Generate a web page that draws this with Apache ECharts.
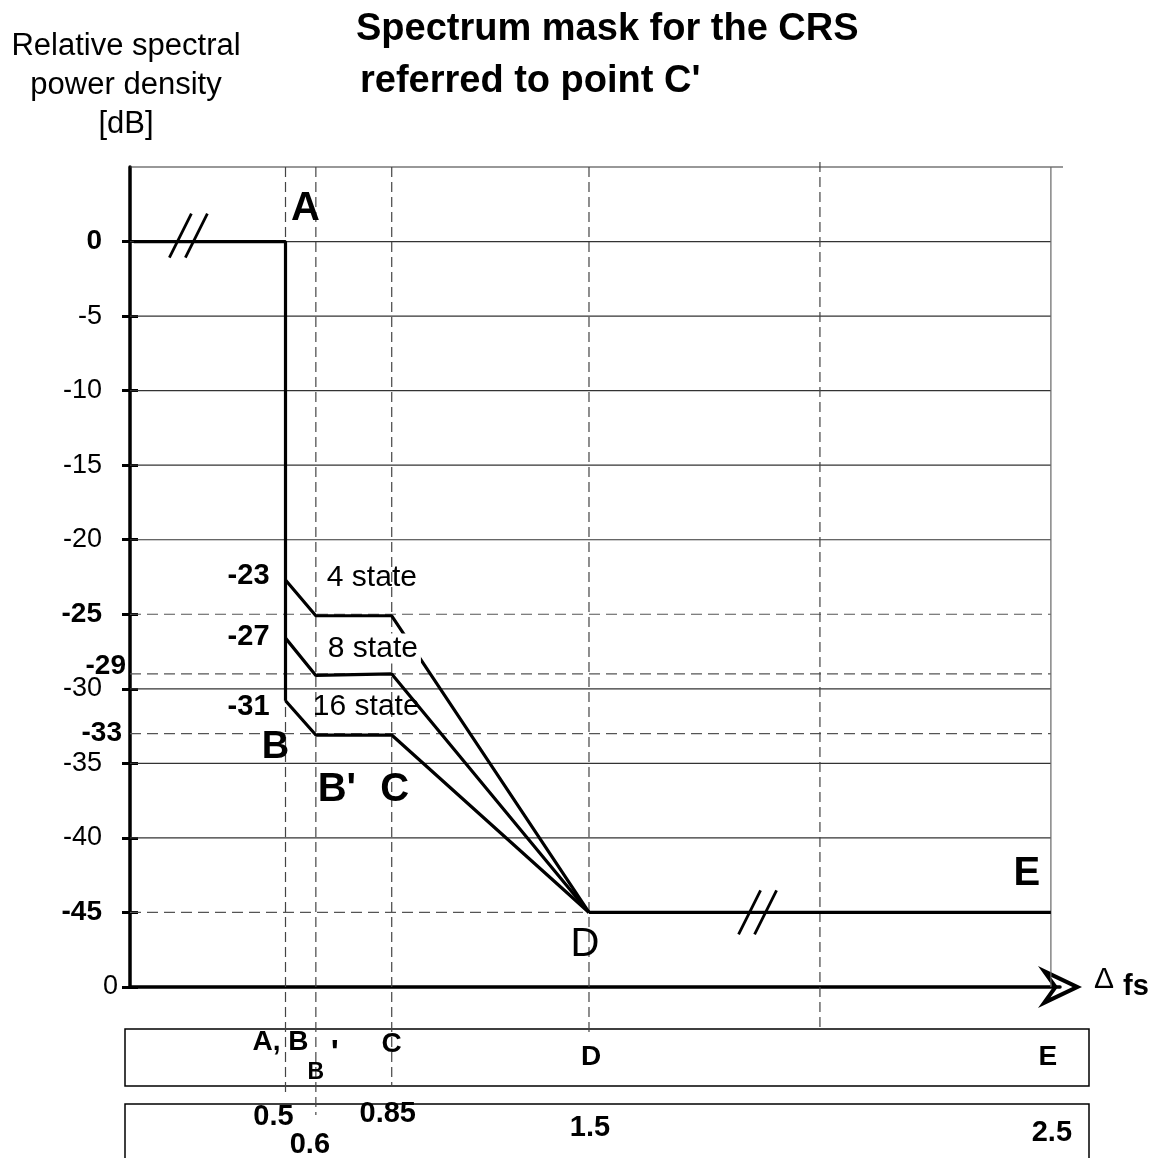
<!DOCTYPE html>
<html>
<head>
<meta charset="utf-8">
<title>Spectrum mask for the CRS</title>
<script src="https://cdn.jsdelivr.net/npm/echarts@6/dist/echarts.min.js"></script>
<style>
  html, body { margin: 0; padding: 0; background: #fff; }
  #chart { width: 1154px; height: 1158px; }
</style>
</head>
<body>
<div id="chart"></div>
<script>
// mask corner frequencies (Δf / fs) and levels [dB]
const stateFreqs = [0.5, 0.6, 0.85, 1.5]
const state4 = [-22.7, -25.1, -25.1, -45]
const state8 = [-26.6, -29.1, -29.0, -45]
const state16 = [-30.8, -33.1, -33.1, -45]
const stateNames = ['4 state', '8 state', '16 state']
const stateStartLabels = ['-23', '-27', '-31']
const maskTop = [[0, 0], [0.5, 0], [0.5, -30.8]]
const maskFloor = [[1.5, -45], [2.5, -45]]

// y axis
const yTicks = [0, -5, -10, -15, -20, -25, -30, -35, -40, -45, -50]
const yLabels = [0, -5, -10, -15, -20, -25, -30, -35, -40, -45]
const yBold = [0, -25, -45]
const solidLevels = [5, 0, -5, -10, -15, -20, -30, -35, -40]
const dashedLevels = [-25, -29, -33, -45]
const extraLevels = [-29, -33]

// x reference lines / point names
const markFreqs = [0.5, 0.6, 0.85, 1.5, 2.0, 2.5]
const pointFreqs = [0.5, 0.6, 0.85, 1.5, 2.5]
const pointNames = ['A, B', "B'", 'C', 'D', 'E']
const freqLabels = ['0.5', '0.6', '0.85', '1.5', '2.5']
const plotLetters = ['A', 'B', "B'", 'C', 'D', 'E']
const plotLetterAt = [[0.5, 0], [0.5, -30.8], [0.6, -33.1], [0.85, -33.1], [1.5, -45], [2.5, -45]]
const breakMarks = [[0.18, 0], [1.865, -45]]

// ---- layout / style (pixels) ----
const FONT = 'Liberation Sans, Arial, sans-serif'
const xLo = -0.0124, xHi = 3.052
// axis is broken after 1.5: the right part is drawn 1.522x wider
const u = f => f <= 1.5 ? f : 1.5 + (f - 1.5) * 1.522
const vRaise = [0, 0, 0, 0, 5, 0]
const vDrop = [108, 128, 100, 50, 45, 0]
const letterOff = [[20, -33], [-10, 47], [21, 55], [3, 55], [-4, 33], [-24, -38]]
const stateNameOff = [[11, -38], [9, -27], [-3, -28]]
const startLabelDy = [-4, -1, 6]
const extraOff = [[-4, -8], [-8, 0]]
const row1Off = [[-5, 55], [0, 86], [0, 57], [2, 70], [-3, 70]]
const row2Off = [[-12, 130], [-6, 158], [-4, 127], [1, 141], [1, 146]]
const breakDy = [-6, 0]
const ARROW = 'path://M21 0L42 44L21 29L0 44ZM21 9.5L10.5 31.6L21 24L31.5 31.6Z'

function txt(x, y, str, size, bold, align, extra) {
  return {
    type: 'text', x, y,
    style: Object.assign({
      text: str, fill: '#000',
      font: (bold ? 'bold ' : '') + size + 'px ' + FONT,
      align: align || 'center', verticalAlign: 'middle'
    }, extra || {})
  }
}

function renderHLine(params, api) {
  const v = api.value(1), kind = api.value(2)
  const p0 = api.coord([xLo, v])
  const p1 = api.coord([kind === 2 ? u(2.5) + 0.04 : u(2.5), v])
  return {
    type: 'line',
    shape: { x1: p0[0], y1: p0[1], x2: p1[0], y2: p1[1] },
    style: { stroke: kind === 1 ? '#555' : '#333', lineWidth: 1.2, lineDash: kind === 1 ? [11, 6] : null }
  }
}

function renderVLine(params, api) {
  const i = params.dataIndex
  const top = api.coord([api.value(0), 5])
  const bottom = api.coord([api.value(0), -50])
  const solid = markFreqs[i] === 2.5
  return {
    type: 'line',
    shape: { x1: top[0], y1: top[1] - vRaise[i], x2: top[0], y2: bottom[1] + vDrop[i] },
    style: { stroke: solid ? '#666' : '#444', lineWidth: 1.2, lineDash: solid ? null : [10, 5] }
  }
}

function renderNotes(params, api) {
  const at = (f, v) => api.coord([u(f), v])
  const kids = []
  const base = api.coord([xLo, -50])[1]

  plotLetters.forEach((name, i) => {
    const p = at(plotLetterAt[i][0], plotLetterAt[i][1])
    kids.push(txt(p[0] + letterOff[i][0], p[1] + letterOff[i][1], name, name === 'B' ? 38 : 40, name !== 'D'))
  });

  [state4, state8, state16].forEach((s, i) => {
    const p0 = at(stateFreqs[0], s[0])
    kids.push(txt(p0[0] - 16, p0[1] + startLabelDy[i], stateStartLabels[i], 29, true, 'right'))
    const p1 = at(stateFreqs[1], s[1])
    kids.push(txt(p1[0] + stateNameOff[i][0], p1[1] + stateNameOff[i][1], stateNames[i], 30, false, 'left',
      i === 1 ? { backgroundColor: '#fff', padding: [0, 3] } : null))
  })

  extraLevels.forEach((v, i) => {
    const p = api.coord([xLo, v])
    kids.push(txt(p[0] + extraOff[i][0], p[1] + extraOff[i][1], String(v), 28, true, 'right'))
  })

  pointFreqs.forEach((f, i) => {
    const x = at(f, 0)[0]
    if (pointNames[i] === "B'") {
      kids.push(txt(x + row1Off[i][0], base + row1Off[i][1], 'B', 23, true))
      kids.push(txt(x + 19, base + 67, "'", 34, true))
    } else {
      kids.push(txt(x + row1Off[i][0], base + row1Off[i][1], pointNames[i], 28, true))
    }
    kids.push(txt(x + row2Off[i][0], base + row2Off[i][1], freqLabels[i], 29, true))
  })

  const end = api.coord([xHi, -50])
  kids.push(txt(end[0] + 34, end[1] - 7, 'Δ', 30, false, 'left'))
  kids.push(txt(end[0] + 63, end[1], 'fs', 29, true, 'left'))

  breakMarks.forEach((b, i) => {
    const p = at(b[0], b[1])
    const cy = p[1] + breakDy[i]
    ;[-8, 8].forEach(dx => {
      kids.push({
        type: 'line',
        shape: { x1: p[0] + dx - 11, y1: cy + 22, x2: p[0] + dx + 11, y2: cy - 22 },
        style: { stroke: '#000', lineWidth: 2.8 }
      })
    })
  })

  return { type: 'group', children: kids }
}

const thick = { color: '#000', width: 3 }
const lineBase = { type: 'line', symbol: 'none', lineStyle: { color: '#000', width: 3.2 }, z: 3, animation: false, silent: true }

const option = {
  animation: false,
  backgroundColor: '#fff',
  grid: { left: 130, top: 167, width: 930, height: 820, outerBoundsMode: 'none' },
  xAxis: {
    type: 'value', min: xLo, max: xHi,
    axisLine: { onZero: false, lineStyle: { color: '#000', width: 3.5 }, symbol: ['none', ARROW], symbolSize: [42, 44] },
    axisTick: { show: false }, axisLabel: { show: false }, splitLine: { show: false }
  },
  yAxis: [
    {
      type: 'value', min: -50, max: 5, interval: 5,
      axisLine: { onZero: false, lineStyle: { color: '#000', width: 3.5 } },
      axisTick: { show: true, length: 8, customValues: yTicks, lineStyle: thick },
      axisLabel: {
        customValues: yLabels, margin: 28, color: '#000', fontSize: 27, fontFamily: FONT,
        formatter: v => yBold.includes(v) ? '{b|' + v + '}' : String(v),
        rich: { b: { fontWeight: 'bold', fontSize: 28, fontFamily: FONT, color: '#000' } }
      },
      splitLine: { show: false }
    },
    {
      type: 'value', min: -50, max: 5, interval: 5, position: 'left',
      axisLine: { show: false, onZero: false },
      axisTick: { show: true, inside: true, length: 8, customValues: yTicks, lineStyle: thick },
      axisLabel: { customValues: [-50], margin: 12, color: '#000', fontSize: 27, fontFamily: FONT, formatter: () => '0' },
      splitLine: { show: false }
    }
  ],
  graphic: [
    { type: 'text', x: 356, y: 30, style: { text: 'Spectrum mask for the CRS', font: 'bold 38px ' + FONT, fill: '#000', verticalAlign: 'middle' } },
    { type: 'text', x: 360, y: 82, style: { text: "referred to point C'", font: 'bold 38px ' + FONT, fill: '#000', verticalAlign: 'middle' } },
    { type: 'text', x: 126, y: 85, style: { text: 'Relative spectral\npower density\n[dB]', font: '31px ' + FONT, lineHeight: 39, fill: '#000', align: 'center', verticalAlign: 'middle' } },
    { type: 'rect', shape: { x: 125, y: 1029, width: 964, height: 57 }, style: { fill: 'none', stroke: '#000', lineWidth: 1.5 } },
    { type: 'rect', shape: { x: 125, y: 1104, width: 964, height: 70 }, style: { fill: 'none', stroke: '#000', lineWidth: 1.5 } }
  ],
  series: [
    {
      type: 'custom', name: 'hLines', renderItem: renderHLine, z: 1, silent: true, clip: false,
      data: [
        ...solidLevels.map(v => [0, v, v === 5 ? 2 : 0]),
        ...dashedLevels.map(v => [0, v, 1])
      ]
    },
    {
      type: 'custom', name: 'vLines', renderItem: renderVLine, z: 1, silent: true, clip: false,
      data: markFreqs.map(f => [u(f), 0])
    },
    Object.assign({ name: 'mask', data: maskTop.map(p => [u(p[0]), p[1]]) }, lineBase),
    Object.assign({ name: '4 state', data: stateFreqs.map((f, i) => [u(f), state4[i]]) }, lineBase),
    Object.assign({ name: '8 state', data: stateFreqs.map((f, i) => [u(f), state8[i]]) }, lineBase),
    Object.assign({ name: '16 state', data: stateFreqs.map((f, i) => [u(f), state16[i]]) }, lineBase),
    Object.assign({ name: 'floor', data: maskFloor.map(p => [u(p[0]), p[1]]) }, lineBase),
    {
      type: 'custom', name: 'notes', renderItem: renderNotes, z: 5, silent: true, clip: false,
      data: [[0, 0]]
    }
  ]
}

const chart = echarts.init(document.getElementById('chart'))
chart.setOption(option)
</script>
</body>
</html>
